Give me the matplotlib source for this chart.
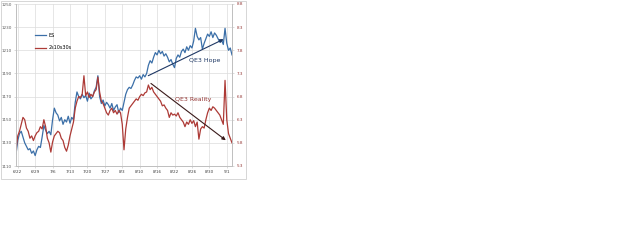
import matplotlib
matplotlib.use("Agg")
from matplotlib import pyplot as plt
from matplotlib.patches import Rectangle

# ES (left axis) and 2s10s30s (right axis)
es = [1120, 1132, 1138, 1140, 1135, 1130, 1127, 1124, 1125, 1121,
      1123, 1119, 1124, 1127, 1126, 1135, 1145, 1141, 1138, 1140,
      1137, 1150, 1160, 1156, 1154, 1149, 1152, 1146, 1150, 1148,
      1153, 1147, 1152, 1150, 1165, 1174, 1170, 1168, 1172, 1169,
      1171, 1166, 1173, 1168, 1170, 1175, 1178, 1188, 1170, 1164,
      1167, 1162, 1165, 1163, 1160, 1164, 1158, 1161, 1163, 1156,
      1160, 1158, 1165, 1172, 1176, 1178, 1177, 1180, 1184, 1187,
      1186, 1188, 1185, 1189, 1187, 1190, 1197, 1201, 1199, 1204,
      1208, 1206, 1210, 1207, 1209, 1205, 1207, 1204, 1200, 1202,
      1198, 1195, 1203, 1206, 1204, 1209, 1211, 1208, 1213, 1210,
      1214, 1212, 1218, 1229, 1222, 1219, 1221, 1211, 1216, 1220,
      1224, 1222, 1226, 1221, 1225, 1223, 1220, 1217, 1219, 1215,
      1229, 1216, 1210, 1212, 1206]

fly = [5.65, 5.95, 6.05, 6.20, 6.35, 6.30, 6.12, 6.05, 5.90, 5.95,
       5.85, 5.95, 6.02, 6.05, 6.15, 6.10, 6.30, 6.15, 5.90, 5.80,
       5.60, 5.82, 5.95, 6.00, 6.05, 6.02, 5.90, 5.85, 5.70, 5.62,
       5.75, 5.95, 6.10, 6.25, 6.55, 6.70, 6.80, 6.78, 6.85, 7.25,
       6.82, 6.90, 6.78, 6.85, 6.80, 6.90, 6.95, 7.22, 6.90, 6.70,
       6.65, 6.55, 6.45, 6.40, 6.50, 6.55, 6.45, 6.50, 6.42, 6.50,
       6.45, 6.20, 5.65, 6.10, 6.35, 6.55, 6.60, 6.65, 6.70, 6.75,
       6.72, 6.80, 6.85, 6.82, 6.88, 6.90, 7.05, 6.95, 7.00, 6.90,
       6.85, 6.80, 6.75, 6.70, 6.60, 6.62, 6.55, 6.50, 6.35, 6.45,
       6.40, 6.42, 6.38, 6.45, 6.35, 6.30, 6.25, 6.15, 6.25, 6.20,
       6.30, 6.22, 6.28, 6.15, 6.25, 5.88, 6.10, 6.15, 6.12, 6.30,
       6.45, 6.55, 6.50, 6.58, 6.55, 6.50, 6.45, 6.40, 6.30, 6.20,
       7.15, 6.30, 6.00, 5.90, 5.80]

date_labels = ["6/22", "6/29", "7/6", "7/13", "7/20", "7/27", "8/3",
               "8/10", "8/16", "8/22", "8/26", "8/30", "9/1"]
left_ticks = [1110, 1130, 1150, 1170, 1190, 1210, 1230, 1250]
right_ticks = [5.3, 5.8, 6.3, 6.8, 7.3, 7.8, 8.3, 8.8]

blue = "#3b6fa8"
red = "#ad3a36"

fig = plt.figure(figsize=(6.25, 2.5), dpi=100)
fig.patches.append(Rectangle((0.001, 1 - 179 / 250), 245 / 625, 179 / 250 - 0.002,
                             transform=fig.transFigure, fill=False,
                             edgecolor="#d0d0d0", linewidth=0.6))

ax = fig.add_axes([16 / 625, 1 - 166 / 250, 216 / 625, 162 / 250])
ax2 = ax.twinx()

x = list(range(len(es)))
l1, = ax.plot(x, es, color=blue, linewidth=0.9, label="ES")
l2, = ax2.plot(x, fly, color=red, linewidth=0.9, label="2s10s30s")

ax.set_xlim(0, len(es) - 1)
ax.set_ylim(1110, 1250)
ax2.set_ylim(5.3, 8.8)
ax.set_yticks(left_ticks)
ax2.set_yticks(right_ticks)
ax2.set_yticklabels([f"{v:.1f}" for v in right_ticks])
ax.set_xticks([1 + 10 * k for k in range(len(date_labels))])
ax.set_xticklabels(date_labels)

ax.grid(True, color="#dcdcdc", linewidth=0.5)
ax.set_axisbelow(True)
for a in (ax, ax2):
    for side in a.spines:
        a.spines[side].set_color("#bfbfbf")
        a.spines[side].set_linewidth(0.6)
    a.spines["top"].set_visible(False)
ax.tick_params(axis="both", labelsize=3.0, length=1.5, width=0.4,
               color="#bfbfbf", pad=1.5, labelcolor="#595959")
ax.tick_params(axis="x", labelsize=3.0, labelcolor="#404040")
ax2.tick_params(axis="y", labelsize=3.0, length=1.5, width=0.4,
                color="#bfbfbf", pad=2, labelcolor="#943634")

# QE3 arrows
ax.annotate("", xy=(120.6, 1220.6), xytext=(74.5, 1187),
            arrowprops=dict(arrowstyle="-|>", color="#1f3864", lw=0.8,
                            mutation_scale=5))
ax2.annotate("", xy=(121.7, 5.82), xytext=(76.2, 7.12),
             arrowprops=dict(arrowstyle="-|>", color="#3a1a1a", lw=0.8,
                             mutation_scale=5))
ax.text(108.6, 1201.6, "QE3 Hope", fontsize=4.5, color="#1f3864",
        ha="center", va="center")
ax2.text(101.8, 6.73, "QE3 Reality", fontsize=4.5, color="#943634",
         ha="center", va="center")

ax.legend(handles=[l1, l2], loc="upper left", bbox_to_anchor=(0.07, 0.85),
          frameon=False, fontsize=3.5, handlelength=2.2, labelspacing=1.6,
          handletextpad=0.5)

fig.savefig("out.png", dpi=100)
